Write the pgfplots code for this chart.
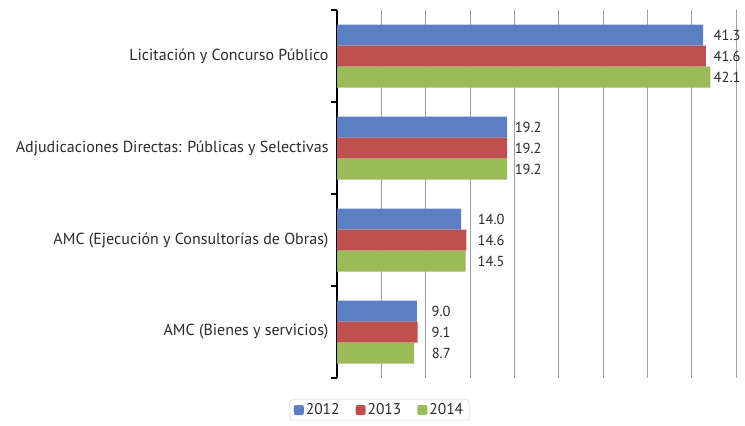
\documentclass[border=0pt]{standalone}
\usepackage{pgfplots}
\pgfplotsset{compat=1.18}
\usepackage{fontspec}
\setmainfont{PT Sans}
\definecolor{cblue}{HTML}{5B7FC2}
\definecolor{cred}{HTML}{C0504D}
\definecolor{cgreen}{HTML}{9BBB59}
\definecolor{ctext}{HTML}{2A2A2A}
\begin{document}
\begin{tikzpicture}
\path[use as bounding box] (0,0) rectangle (745bp,426bp);
\begin{axis}[
  at={(337bp,48bp)}, anchor=south west,
  scale only axis, width=399bp, height=368bp,
  xbar, bar width=21bp,
  xmin=0, xmax=45, ymin=-0.5, ymax=3.5, y dir=reverse,
  xtick={5,10,...,45}, xticklabels={}, major tick length=0pt,
  xmajorgrids, grid style={draw=gray!75, line width=0.8pt},
  ytick={0,1,2,3},
  yticklabels={Licitación y Concurso Público, Adjudicaciones Directas: Públicas y Selectivas, AMC (Ejecución y Consultorías de Obras), AMC (Bienes y servicios)},
  yticklabel style={font=\fontsize{16bp}{19bp}\selectfont, text=ctext, xshift=-5bp},
  extra y ticks={-0.5,0.5,1.5,2.5,3.5}, extra y tick labels={},
  extra y tick style={major tick length=6bp, tick align=outside, tick style={black, line width=1.6pt}, grid=none},
  axis lines*=left, x axis line style={draw=none},
  y axis line style={black, line width=1.8pt, -},
  point meta=x,
  visualization depends on=value \thisrow{off} \as \off,
  nodes near coords={\pgfmathprintnumber[fixed,fixed zerofill,precision=1,assume math mode=true]{\pgfplotspointmeta}},
  nodes near coords style={font=\fontsize{14.5bp}{17bp}\selectfont, text=ctext, xshift=\off bp},
  legend columns=3,
  legend style={at={(0.1065,-0.087)}, anchor=center, draw=gray!40, rounded corners=2pt, font=\fontsize{15.5bp}{18bp}\selectfont, text=ctext, /tikz/every even column/.append style={column sep=14bp}, inner xsep=4bp, inner ysep=2bp},
  legend image code/.code={\fill[#1,draw=none] (2bp,-5bp) rectangle (12bp,5bp);},
]
\addplot[fill=cblue, draw=none, bar shift=21bp] table {
x y off
41.3 0 7.0
19.2 1 4.0
14.0 2 13.1
9.0 3 11.4
};
\addplot[fill=cred, draw=none, bar shift=0bp] table {
x y off
41.6 0 4.3
19.2 1 4.0
14.6 2 7.7
9.1 3 10.5
};
\addplot[fill=cgreen, draw=none, bar shift=-21bp] table {
x y off
42.1 0 -0.1
19.2 1 4.0
14.5 2 8.6
8.7 3 14.1
};
\legend{2012,2013,2014}
\end{axis}
\end{tikzpicture}
\end{document}
